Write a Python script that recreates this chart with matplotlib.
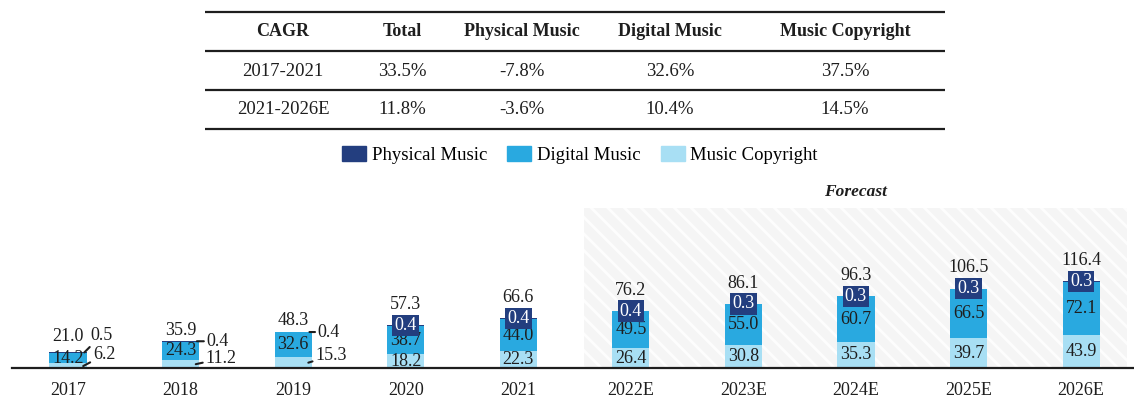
import numpy as np
import matplotlib.pyplot as plt
from matplotlib.patches import Patch

plt.rcParams['font.family'] = ['Liberation Serif', 'DejaVu Serif']
plt.rcParams['hatch.linewidth'] = 2.0

# market size by segment
years = ['2017', '2018', '2019', '2020', '2021', '2022E', '2023E', '2024E', '2025E', '2026E']
physical = [0.5, 0.4, 0.4, 0.4, 0.4, 0.4, 0.3, 0.3, 0.3, 0.3]
digital = [14.2, 24.3, 32.6, 38.7, 44.0, 49.5, 55.0, 60.7, 66.5, 72.1]
copyright = [6.2, 11.2, 15.3, 18.2, 22.3, 26.4, 30.8, 35.3, 39.7, 43.9]
totals = [21.0, 35.9, 48.3, 57.3, 66.6, 76.2, 86.1, 96.3, 106.5, 116.4]
first_forecast = 5

# CAGR table
cagr_header = ['CAGR', 'Total', 'Physical Music', 'Digital Music', 'Music Copyright']
cagr_periods = ['2017-2021', '2021-2026E']
cagr_total = ['33.5%', '11.8%']
cagr_physical = ['-7.8%', '-3.6%']
cagr_digital = ['32.6%', '10.4%']
cagr_copyright = ['37.5%', '14.5%']

C_PHYS = '#233e7f'
C_DIG = '#29a9e0'
C_COPY = '#a8dff4'
INK = '#1e1e1e'

W, H = 1134, 403
fig = plt.figure(figsize=(W / 100, H / 100), dpi=100)


def px_box(l, t, r, b):
    return [l / W, 1 - b / H, (r - l) / W, (b - t) / H]


# ---- table (pixel coordinates overlay) ----
axt = fig.add_axes([0, 0, 1, 1])
axt.set_xlim(0, W)
axt.set_ylim(H, 0)
axt.axis('off')
col_x = [283, 402, 522, 670, 845]
for y in [12, 51, 90, 129]:
    axt.plot([205, 945], [y, y], color=INK, lw=1.6, solid_capstyle='butt')
for cx, lab in zip(col_x, cagr_header):
    axt.text(cx, 32, lab, ha='center', va='center', fontsize=13, fontweight='bold', color=INK)
rows = list(zip(cagr_periods, cagr_total, cagr_physical, cagr_digital, cagr_copyright))
for ry, row in zip([71, 110], rows):
    for cx, val in zip(col_x, row):
        axt.text(cx, ry, val, ha='center', va='center', fontsize=13.5, color=INK)

# ---- bars ----
ax = fig.add_axes(px_box(12, 208, 1134, 368))
x = np.arange(len(years))
bw = 0.33
ax.bar(x, copyright, bw, color=C_COPY, zorder=2)
ax.bar(x, digital, bw, bottom=copyright, color=C_DIG, zorder=2)
base2 = np.add(copyright, digital)
ax.bar(x, physical, bw, bottom=base2, color=C_PHYS, zorder=2)
ax.set_xlim(-0.4975, 9.47)
ax.set_ylim(0, 214.8)

fc_lo, fc_hi = first_forecast - 0.42, len(years) - 1 + 0.41
ax.axvspan(fc_lo, fc_hi, facecolor='#f5f5f5', edgecolor='#fdfdfd', hatch='\\\\', lw=0, zorder=0)
ax.annotate('Forecast', xy=((fc_lo + fc_hi) / 2, 1), xycoords=('data', 'axes fraction'),
            xytext=(0, 11.5), textcoords='offset points', ha='center', va='center',
            fontsize=12.5, fontweight='bold', fontstyle='italic', color=INK)

fs = 13
leader = dict(arrowstyle='-', color=INK, lw=1.5, shrinkA=0, shrinkB=0)
phys_off = [(4, 12), (7, 0), (6, 0)]
copy_off = [(7, 8), (7, 4), (5, 5)]
total_off = [11.5, 8, 8]
for i in range(len(years)):
    top = copyright[i] + digital[i] + physical[i]
    ax.text(x[i], copyright[i] + digital[i] / 2, f'{digital[i]:.1f}', ha='center', va='center',
            fontsize=fs, color=INK, zorder=3)
    if i >= 3:
        ax.text(x[i], copyright[i] / 2, f'{copyright[i]:.1f}', ha='center', va='center',
                fontsize=fs, color=INK, zorder=3)
        ax.text(x[i], top, f'{physical[i]:.1f}', ha='center', va='center', fontsize=fs,
                color='white', zorder=4,
                bbox=dict(boxstyle='square,pad=0.12', facecolor=C_PHYS, edgecolor='none'))
        ax.annotate(f'{totals[i]:.1f}', xy=(x[i], top), xytext=(0, 15), textcoords='offset points',
                    ha='center', va='center', fontsize=fs, color=INK)
    else:
        ax.annotate(f'{physical[i]:.1f}', xy=(x[i] + bw / 2 - 0.02, top), xytext=phys_off[i],
                    textcoords='offset points', ha='left', va='center', fontsize=fs, color=INK,
                    arrowprops=leader)
        ax.annotate(f'{copyright[i]:.1f}', xy=(x[i] + bw / 2 - 0.03, copyright[i] / 2 - 0.5),
                    xytext=copy_off[i], textcoords='offset points', ha='left', va='center',
                    fontsize=fs, color=INK, arrowprops=leader)
        ax.annotate(f'{totals[i]:.1f}', xy=(x[i], top), xytext=(0, total_off[i]),
                    textcoords='offset points', ha='center', va='center', fontsize=fs, color=INK)

ax.set_xticks(x, years)
ax.set_yticks([])
ax.tick_params(axis='x', length=0, pad=10, labelsize=13, colors=INK)
for s in ['top', 'right', 'left']:
    ax.spines[s].set_visible(False)
ax.spines['bottom'].set_linewidth(1.6)
ax.spines['bottom'].set_color(INK)
ax.patch.set_visible(False)

handles = [Patch(color=C_PHYS, label='Physical Music'),
           Patch(color=C_DIG, label='Digital Music'),
           Patch(color=C_COPY, label='Music Copyright')]
fig.legend(handles=handles, loc='center', bbox_to_anchor=(580 / W, 1 - 155 / H), ncol=3,
           frameon=False, fontsize=13.5, handlelength=1.28, handleheight=0.9,
           handletextpad=0.3, columnspacing=1.07)

fig.savefig('out.png', dpi=100)
